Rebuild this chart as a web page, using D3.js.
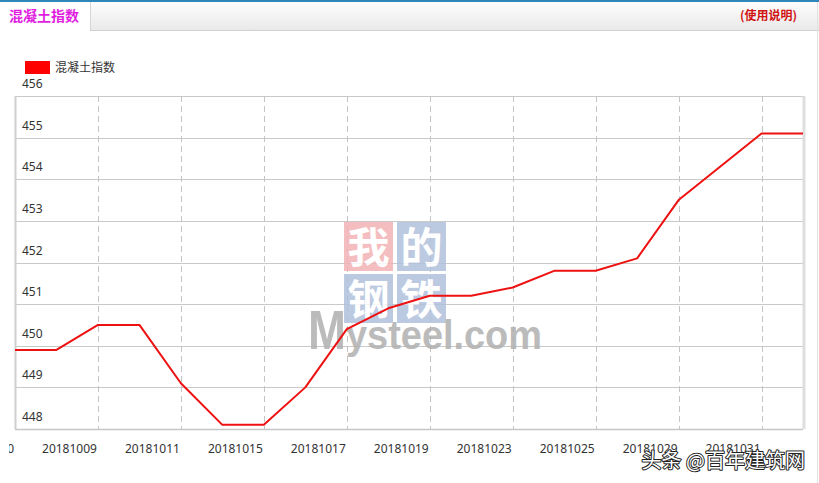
<!DOCTYPE html>
<html>
<head>
<meta charset="utf-8">
<script src="https://cdn.jsdelivr.net/npm/d3@7"></script>
<style>
  body { margin: 0; background: #fff; }
  svg { display: block; font-family: "Noto Sans", "Noto Sans CJK SC", sans-serif; }
</style>
</head>
<body>
<svg id="chart" width="819" height="483"></svg>
<script>
var seriesName = "混凝土指数"
var dates = ["20181008", "20181009", "20181010", "20181011", "20181012", "20181015", "20181016",
  "20181017", "20181018", "20181019", "20181022", "20181023", "20181024", "20181025", "20181026",
  "20181029", "20181030", "20181031", "20181101", "20181102"]
var values = [449.9, 449.9, 450.5, 450.5, 449.1, 448.1, 448.1, 449.0, 450.4, 450.9,
  451.2, 451.2, 451.4, 451.8, 451.8, 452.1, 453.5, 454.3, 455.1, 455.1]
var xTickLabels = ["20180930", "20181009", "20181011", "20181015", "20181017", "20181019",
  "20181023", "20181025", "20181029", "20181031"]
var yTicks = [448, 449, 450, 451, 452, 453, 454, 455, 456]

var W = 819, H = 483
var margin = {left: 15, right: 16, top: 96, bottom: 54}

var svg = d3.select("#chart")

// header bar with tab
var defs = svg.append("defs")
var grad = defs.append("linearGradient").attr("id", "bar").attr("x1", 0).attr("y1", 0).attr("x2", 0).attr("y2", 1)
grad.append("stop").attr("offset", "0%").attr("stop-color", "#ffffff")
grad.append("stop").attr("offset", "100%").attr("stop-color", "#e9e9e9")
// chart container cuts the first date label on the left
defs.append("clipPath").attr("id", "xclip")
  .append("rect").attr("x", 9).attr("y", 430).attr("width", W).attr("height", 40)

svg.append("rect").attr("x", 90).attr("y", 0).attr("width", W - 90).attr("height", 30).attr("fill", "url(#bar)")
svg.append("line").attr("x1", 90).attr("x2", W).attr("y1", 30.5).attr("y2", 30.5).style("stroke", "#cfcfcf")
svg.append("line").attr("x1", 90.5).attr("x2", 90.5).attr("y1", 1).attr("y2", 31).style("stroke", "#d6d6d6")
svg.append("rect").attr("x", 0).attr("y", 0).attr("width", W).attr("height", 2).attr("fill", "#2f86b8")
svg.append("line").attr("x1", W - 1.5).attr("x2", W - 1.5).attr("y1", 2).attr("y2", H).style("stroke", "#e2e2e2")

svg.append("text").attr("x", 9).attr("y", 21)
  .style("font-family", "'Noto Sans CJK SC', sans-serif")
  .style("font-size", "14px").style("font-weight", "bold").style("fill", "#e01ee0")
  .text(seriesName)
svg.append("text").attr("x", 797).attr("y", 20).attr("text-anchor", "end")
  .style("font-family", "'Noto Sans CJK SC', sans-serif")
  .style("font-size", "12px").style("font-weight", "bold").style("fill", "#d01414")
  .text("(使用说明)")

// legend
svg.append("rect").attr("x", 25).attr("y", 61).attr("width", 25).attr("height", 13).attr("fill", "#ff0000")
svg.append("text").attr("x", 55).attr("y", 72)
  .style("font-family", "'Noto Sans CJK SC', sans-serif")
  .style("font-size", "12px").style("fill", "#333")
  .text(seriesName)

var x = d3.scalePoint().domain(dates).range([margin.left, W - margin.right])
var y = d3.scaleLinear().domain([448, 456]).range([H - margin.bottom, margin.top])

// grid
svg.append("g").selectAll("line")
  .data(yTicks)
  .enter()
  .append("line")
  .attr("x1", margin.left).attr("x2", W - margin.right)
  .attr("y1", function(d) { return Math.round(y(d)) + 0.5 })
  .attr("y2", function(d) { return Math.round(y(d)) + 0.5 })
  .style("stroke", "#c9c9c9")

var tickDates = dates.filter(function(d, i) { return i % 2 == 0 })
svg.append("g").selectAll("line")
  .data(tickDates.slice(1))
  .enter()
  .append("line")
  .attr("x1", function(d) { return Math.round(x(d)) + 0.5 })
  .attr("x2", function(d) { return Math.round(x(d)) + 0.5 })
  .attr("y1", margin.top).attr("y2", H - margin.bottom)
  .style("stroke", "#c4c4c4")
  .style("stroke-dasharray", "6,4")

// plot frame
svg.append("line").attr("x1", margin.left + 0.5).attr("x2", margin.left + 0.5)
  .attr("y1", margin.top).attr("y2", H - margin.bottom).style("stroke", "#cfcfcf").style("stroke-width", 2)
svg.append("line").attr("x1", W - margin.right + 1).attr("x2", W - margin.right + 1)
  .attr("y1", margin.top).attr("y2", H - margin.bottom).style("stroke", "#dedede").style("stroke-width", 3)
svg.append("line").attr("x1", margin.left).attr("x2", W - margin.right)
  .attr("y1", H - margin.bottom + 0.5).attr("y2", H - margin.bottom + 0.5).style("stroke", "#c6c6c6").style("stroke-width", 1.5)

// mysteel watermark
var wm = svg.append("g").attr("opacity", 0.85)
var tiles = [
  {ch: "我", c: "#f3b3b6", col: 0, row: 0},
  {ch: "的", c: "#b1c1dc", col: 1, row: 0},
  {ch: "钢", c: "#b1c1dc", col: 0, row: 1},
  {ch: "铁", c: "#b1c1dc", col: 1, row: 1}
]
var tile = wm.selectAll("g.tile")
  .data(tiles)
  .enter()
  .append("g")
  .attr("class", "tile")
  .attr("transform", function(d) { return "translate(" + (344 + d.col * 53) + "," + (222 + d.row * 52) + ")" })
tile.append("rect").attr("width", 49).attr("height", 49).attr("fill", function(d) { return d.c })
tile.append("text").attr("x", 24.5).attr("y", 41).attr("text-anchor", "middle")
  .style("font-family", "'Noto Sans CJK SC', sans-serif")
  .style("font-size", "42px").style("font-weight", "bold").style("fill", "#fff")
  .text(function(d) { return d.ch })
wm.append("text").attr("x", 308).attr("y", 349)
  .attr("textLength", 38).attr("lengthAdjust", "spacingAndGlyphs")
  .style("font-family", "'Liberation Sans', sans-serif")
  .style("font-size", "56px").style("font-weight", "bold").style("fill", "#b0b0b0")
  .text("M")
wm.append("text").attr("x", 346).attr("y", 349)
  .attr("textLength", 196).attr("lengthAdjust", "spacingAndGlyphs")
  .style("font-family", "'Liberation Sans', sans-serif")
  .style("font-size", "40px").style("font-weight", "bold").style("fill", "#b0b0b0")
  .text("ysteel.com")

// y labels, drawn just above their grid line
svg.append("g").selectAll("text")
  .data(yTicks)
  .enter()
  .append("text")
  .attr("x", 22)
  .attr("y", function(d) { return y(d) - 8 })
  .style("font-size", "12px").style("fill", "#333")
  .text(function(d) { return d })

// x labels, right aligned to the dashed lines
svg.append("g").attr("clip-path", "url(#xclip)").selectAll("text")
  .data(xTickLabels)
  .enter()
  .append("text")
  .attr("x", function(d, i) { return x(tickDates[i]) - 1 })
  .attr("y", 453)
  .attr("text-anchor", "end")
  .style("font-size", "12px").style("fill", "#333")
  .text(function(d) { return d })

// series line
var line = d3.line()
  .x(function(d, i) { return x(dates[i]) })
  .y(function(d) { return y(d) })
svg.append("path")
  .datum(values)
  .attr("d", line)
  .style("fill", "none")
  .style("stroke", "#ee1111")
  .style("stroke-width", 2)
  .style("stroke-linejoin", "round")

// toutiao watermark
svg.append("text").attr("x", 805).attr("y", 468).attr("text-anchor", "end")
  .style("font-family", "'Noto Sans CJK SC', sans-serif")
  .style("font-size", "20px")
  .style("fill", "#fff").style("stroke", "#222").style("stroke-width", 2)
  .style("paint-order", "stroke").style("stroke-linejoin", "round")
  .text("头条 @百年建筑网")
</script>
</body>
</html>
